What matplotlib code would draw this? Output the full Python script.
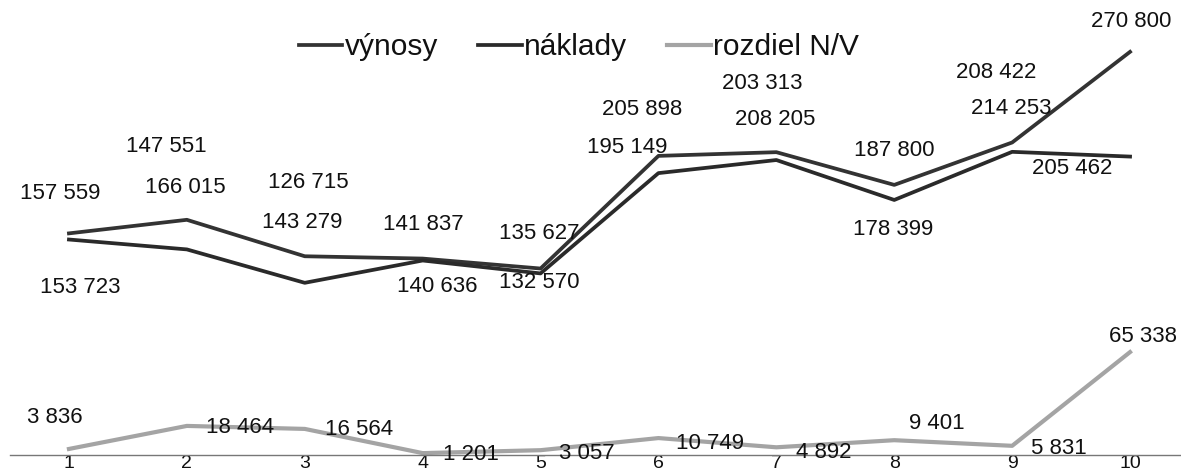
import matplotlib.pyplot as plt

# values
months = [1, 2, 3, 4, 5, 6, 7, 8, 9, 10]
vynosy = [157559, 166015, 143279, 141837, 135627, 205898, 208205, 187800, 214253, 270800]
naklady = [153723, 147551, 126715, 140636, 132570, 195149, 203313, 178399, 208422, 205462]
rozdiel = [3836, 18464, 16564, 1201, 3057, 10749, 4892, 9401, 5831, 65338]

# where each data label sits, in pixels from its point (dx, dy)
off_vynosy = [(-9, 40), (-2, 32), (-3, 34), (1, 34), (-1, 35),
              (-16, 46), (-1, 33), (0, 34), (-1, 34), (1, 30)]
off_naklady = [(11, -48), (-21, 103), (4, 100), (15, -26), (-1, -9),
               (-31, 26), (-14, 77), (-1, -30), (-16, 79), (-58, -12)]
off_rozdiel = [(-14, 31), (53, -2), (54, -1), (48, -1), (46, -3),
               (52, -5), (47, -5), (43, 17), (47, -3), (13, 16)]

plt.rcParams['font.family'] = ['Liberation Sans', 'DejaVu Sans']

W, H = 1181, 476
fig = plt.figure(figsize=(W / 100, H / 100), dpi=100)
ax = fig.add_axes([10 / W, (H - 455) / H, 1179 / W, 445 / H])
ax2 = ax.twinx()


def fmt(v):
    return f"{v:,}".replace(",", " ")


# difference on the primary axis, revenue and costs on the secondary one
l3, = ax.plot(months, rozdiel, color='#a4a4a4', lw=3.0, solid_joinstyle='round')
l1, = ax2.plot(months, vynosy, color='#333333', lw=2.7, solid_joinstyle='round')
l2, = ax2.plot(months, naklady, color='#2a2a2a', lw=2.7, solid_joinstyle='round')

for axis, vals, offs in [(ax2, vynosy, off_vynosy), (ax2, naklady, off_naklady),
                         (ax, rozdiel, off_rozdiel)]:
    for m, v, (dx, dy) in zip(months, vals, offs):
        axis.annotate(fmt(v), xy=(m, v), xytext=(dx, dy), textcoords='offset pixels',
                      ha='center', va='center', fontsize=16, color='#111111')

ax.set_xlim(0.5, 10.5)
ax.set_ylim(0, 282540)
ax2.set_ylim(19300, 296900)

for a in (ax, ax2):
    for s in ('top', 'right', 'left', 'bottom'):
        a.spines[s].set_visible(False)
    a.set_yticks([])
ax.spines['bottom'].set_visible(True)
ax.spines['bottom'].set_linestyle((0, (1, 1)))
ax.spines['bottom'].set_color('#777777')
ax.spines['bottom'].set_linewidth(1.0)

ax.set_xticks(months)
ax.set_xticklabels([str(m) for m in months], fontsize=14, color='#111111')
ax.tick_params(axis='x', length=0, pad=0)

fig.legend([l1, l2, l3], ['výnosy', 'náklady', 'rozdiel N/V'], loc='center',
           bbox_to_anchor=(579 / W, 1 - 47 / H), ncol=3, frameon=False,
           fontsize=21.5, handlelength=1.45, handletextpad=0.08,
           columnspacing=1.35, borderpad=0, labelcolor='#111111')

fig.savefig('out.png', dpi=100)
